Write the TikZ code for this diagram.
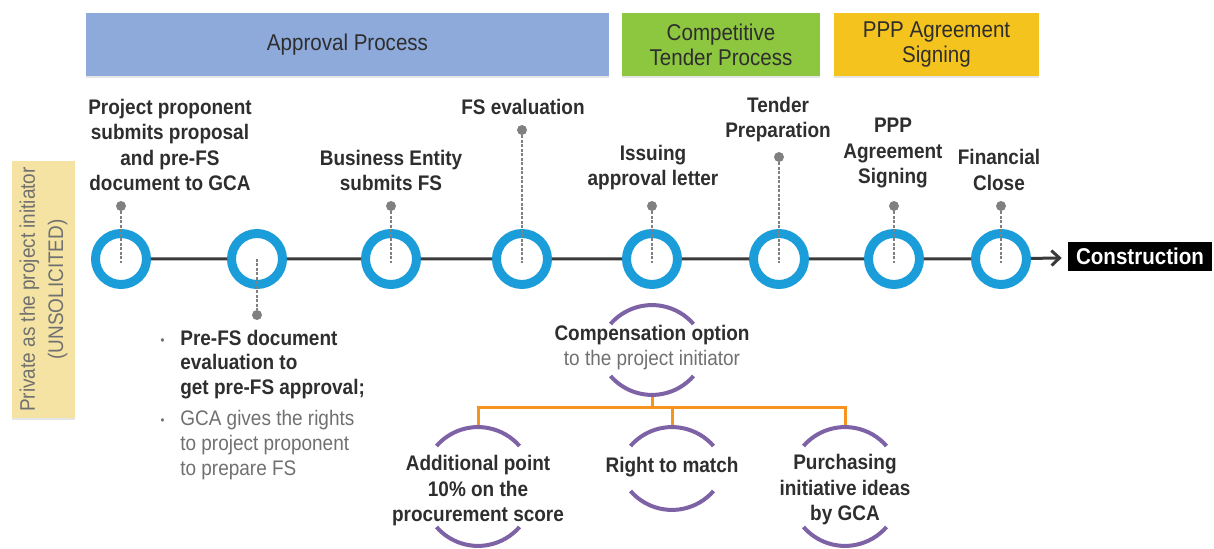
\documentclass[tikz,border=0pt]{standalone}
\usepackage{fontspec}
\setmainfont[FakeStretch=0.9]{Liberation Sans}
\usetikzlibrary{arrows.meta,shadows}

\definecolor{apblue}{HTML}{8EAADB}
\definecolor{ctgreen}{HTML}{8DC63F}
\definecolor{ppyellow}{HTML}{F4C31E}
\definecolor{sideyellow}{HTML}{F4E3A2}
\definecolor{ringblue}{HTML}{1B9DD9}
\definecolor{optpurple}{HTML}{7E62A6}
\definecolor{branchorange}{HTML}{F7941D}
\definecolor{darktext}{HTML}{2E2E2E}
\definecolor{greytext}{HTML}{707070}
\definecolor{linegray}{HTML}{3A3A3A}

\newcommand\bul{\textcolor{greytext}{\raisebox{0.5pt}{\scriptsize\textbullet}}\hspace{9pt}}

\begin{document}
\begin{tikzpicture}[x=0.02cm, y=0.02cm,
    phase/.style={minimum height=1.26cm, align=center, text=darktext, font=\fontsize{13}{14.2}\selectfont,
      drop shadow={shadow xshift=0pt, shadow yshift=-0.05cm, opacity=0.2}},
    sidebox/.style={rotate=90, fill=sideyellow, text=greytext, align=center, minimum width=5.1cm, minimum height=1.26cm,
      font=\fontsize{12}{16}\selectfont, drop shadow={shadow xshift=0pt, shadow yshift=-0.05cm, opacity=0.2}},
    ring/.style={circle, draw=ringblue, line width=0.18cm, fill=white, minimum size=1.02cm, inner sep=0pt},
    dot/.style={circle, fill=gray, minimum size=0.2cm, inner sep=0pt},
    stem/.style={draw=gray, line width=0.04cm, dash pattern=on 0.06cm off 0.03cm, shorten >=-0.08cm},
    milestone/.style={align=center, text=darktext, inner sep=1pt, font=\fontsize{12}{14.5}\selectfont\bfseries},
    note/.style={anchor=west, align=left, inner sep=0pt, font=\fontsize{12}{14}\selectfont},
    option/.style={align=center, text=darktext, inner sep=1pt, font=\fontsize{12}{14.5}\selectfont\bfseries},
    optarc/.style={draw=optpurple, line width=0.08cm},
    branch/.style={draw=branchorange, line width=0.06cm},
    endbox/.style={fill=black, text=white, minimum width=2.88cm, minimum height=0.58cm, inner sep=0pt,
      font=\fontsize{13}{14}\selectfont\bfseries},
    timeline/.style={draw=linegray, line width=0.06cm, -{Straight Barb[length=0.16cm,width=0.3cm]}, shorten >=0.12cm}]
  \useasboundingbox (0,0) rectangle (1214,548);

  % phases
  \node[phase, fill=apblue, minimum width=10.46cm] (apr) at (347.5,503.5) {Approval Process};
  \node[phase, fill=ctgreen, minimum width=3.96cm] (ctp) at (721,503.5) {Competitive\\Tender Process};
  \node[phase, fill=ppyellow, minimum width=4.1cm] (pas) at (936.5,503.5) {PPP Agreement\\Signing};

  \node[sidebox] (ini) at (43.5,258.5) {Private as the project initiator\\(UNSOLICITED)};

  % timeline
  \foreach \x [count=\i] in {121,257,391,522,652,779,894,1001}
    \node[ring] (c\i) at (\x,289) {};
  \node[endbox] (cons) at (1140,291.5) {Construction};
  \draw[timeline] (c1) -- (c2) -- (c3) -- (c4) -- (c5) -- (c6) -- (c7) -- (c8) -- (cons);

  \foreach \i/\x/\y in {1/121/342, 3/391/342, 4/522/418, 5/652/342, 6/779/391, 7/894/342, 8/1001/342} {
    \node[dot] (d\i) at (\x,\y) {};
    \draw[stem] (d\i) -- (c\i.center);
  }
  \node[dot] (d2) at (257,233) {};
  \draw[stem, shorten >=0pt] (c2.center) -- (d2);

  % milestone labels
  \node[milestone] (l1) at (170,403) {Project proponent\\submits proposal\\and pre-FS\\document to GCA};
  \node[milestone] (l3) at (391,377.5) {Business Entity\\submits FS};
  \node[milestone] (l4) at (523,441) {FS evaluation};
  \node[milestone] (l5) at (653,380.5) {Issuing\\approval letter};
  \node[milestone] (l6) at (778,428.5) {Tender\\Preparation};
  \node[milestone] (l7) at (893,395) {PPP\\Agreement\\Signing};
  \node[milestone] (l8) at (999,378) {Financial\\Close};

  % pre-FS notes
  \node[note, text=darktext, font=\fontsize{12}{14}\selectfont\bfseries] (pfs) at (180,183.5)
    {\llap{\bul}Pre-FS document\\evaluation to\\get pre-FS approval;};
  \node[note, text=greytext] (gca) at (180,103)
    {\llap{\bul}GCA gives the rights\\to project proponent\\to prepare FS};

  % compensation options
  \node[option] (comp) at (652,200.5) {Compensation option\\{\mdseries\color{greytext}to the project initiator}};
  \node[option] (addp) at (478,57) {Additional point\\10\% on the\\procurement score};
  \node[option] (rtm) at (672,81) {Right to match};
  \node[option] (pur) at (845,58) {Purchasing\\initiative ideas\\by GCA};

  \coordinate (compb) at (652,153);
  \coordinate (addt) at (478,121);
  \coordinate (rtmt) at (672,121);
  \coordinate (purt) at (845,121);
  \foreach \t in {addt,rtmt,purt}
    \draw[branch] (compb) -- ++(0,-13) -| (\t);

  \foreach \n/\t/\b in {comp/42.5/47.5, addp/64/55, rtm/40/43, pur/63/56} {
    \draw[optarc] ([shift={(-41.5,\t-19)}]\n.center) arc (139:41:55);
    \draw[optarc] ([shift={(-41.5,19-\b)}]\n.center) arc (221:319:55);
  }
\end{tikzpicture}
\end{document}
